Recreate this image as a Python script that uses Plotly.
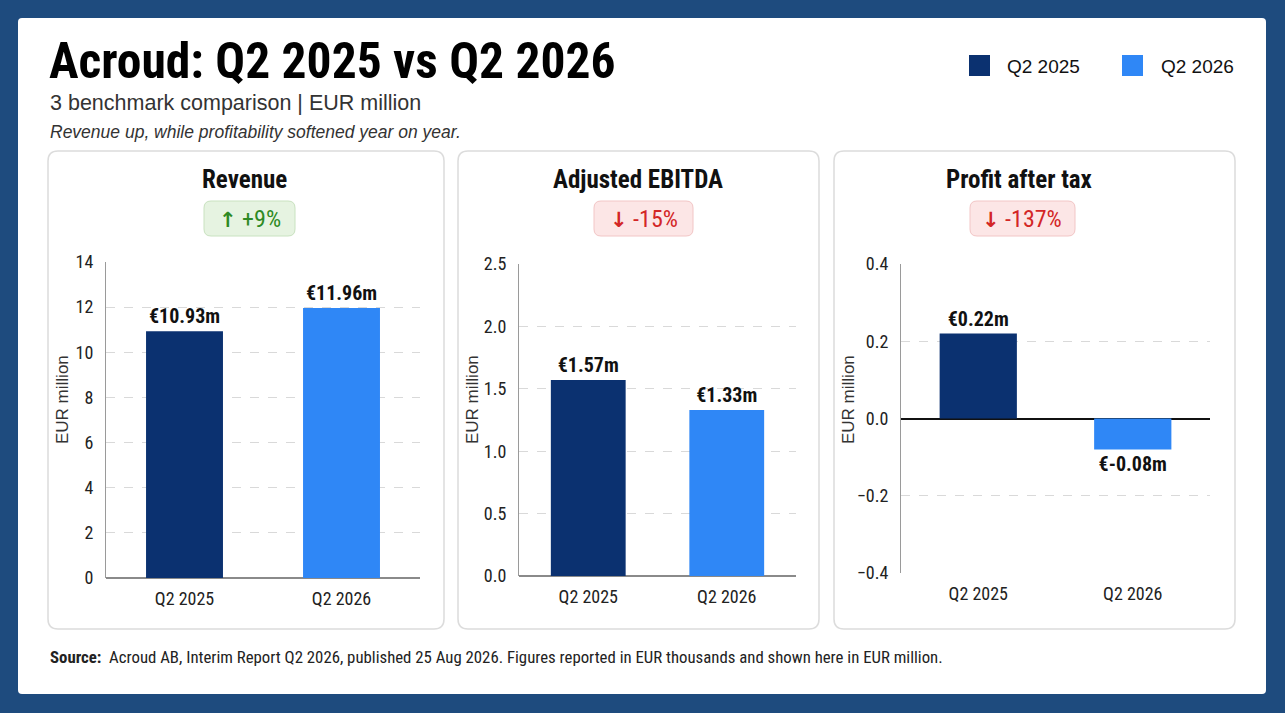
import plotly.graph_objects as go

# ---------------- data ----------------
periods = ["Q2 2025", "Q2 2026"]
metrics = ["Revenue", "Adjusted EBITDA", "Profit after tax"]
revenue = [10.93, 11.96]
adj_ebitda = [1.57, 1.33]
profit_after_tax = [0.22, -0.08]
changes = ["+9%", "-15%", "-137%"]
change_up = [True, False, False]
y_ranges = [[0, 14], [0, 2.5], [-0.4, 0.4]]
y_dticks = [2, 0.5, 0.2]
series = [revenue, adj_ebitda, profit_after_tax]
y_title = "EUR million"

title = "Acroud: Q2 2025 vs Q2 2026"
subtitle = "3 benchmark comparison | EUR million"
note = "Revenue up, while profitability softened year on year."
source = ("<b>Source:</b>  Acroud AB, Interim Report Q2 2026, published 25 Aug 2026. "
          "Figures reported in EUR thousands and shown here in EUR million.")

# ---------------- style ----------------
W, H = 1285, 713
NAVY = "#0b3170"
LIGHT = "#2f87f6"
COLORS = [NAVY, LIGHT]
BG = "#1e4b7e"
NARROW = "Liberation Sans Narrow, Roboto Condensed, Arial Narrow, Roboto, sans-serif"
REG = "Liberation Sans, Arial, sans-serif"
TXT = "#111111"


def px(x):
    return x / W


def py(y):
    return 1 - y / H


def rrect(x0, y0, x1, y1, r):
    rx, ry = r / W, r / H
    X0, X1 = px(x0), px(x1)
    Y0, Y1 = py(y1), py(y0)  # bottom, top in paper coords
    return (f"M{X0+rx},{Y0} L{X1-rx},{Y0} Q{X1},{Y0} {X1},{Y0+ry} "
            f"L{X1},{Y1-ry} Q{X1},{Y1} {X1-rx},{Y1} L{X0+rx},{Y1} "
            f"Q{X0},{Y1} {X0},{Y1-ry} L{X0},{Y0+ry} Q{X0},{Y0} {X0+rx},{Y0} Z")


# panel geometry (pixels)
panels = [(48, 151, 444, 629), (458, 151, 819, 629), (834, 151, 1235, 629)]
plot_x = [(106, 420), (519, 796), (901, 1210)]
plot_y = [(262, 578), (264, 576), (264, 573)]
title_cx = [244, 638, 1019]
badge_x = [(204, 295), (594, 693), (970, 1075)]
bar_widths = [0.49, 0.54, 0.5]
ytitle_x = [62, 472, 848]

fig = go.Figure()
shapes = []
annotations = []

# card
shapes.append(dict(type="path", path=rrect(18, 18, 1266, 694, 4), xref="paper", yref="paper",
                   fillcolor="white", line=dict(width=0), layer="below"))

for i in range(3):
    ax = "" if i == 0 else str(i + 1)
    xa, ya = "x" + ax, "y" + ax
    vals = series[i]
    fig.add_trace(go.Bar(
        x=periods, y=vals, xaxis=xa, yaxis=ya,
        marker=dict(color=COLORS, line=dict(width=0)),
        width=bar_widths[i],
        text=[f"€{v:.2f}m" for v in vals],
        textposition="outside", cliponaxis=False,
        textfont=dict(family=NARROW, size=20, color=TXT, weight="bold"),
        showlegend=False, hoverinfo="skip",
    ))
    x0, x1 = plot_x[i]
    yt, yb = plot_y[i]
    fig.layout["xaxis" + ax] = dict(
        domain=[px(x0), px(x1)], anchor=ya, showgrid=False, showline=False,
        ticks="", ticklabelstandoff=8, automargin=False,
        tickfont=dict(family=NARROW, size=18, color="#222"), fixedrange=True,
    )
    zero_black = y_ranges[i][0] < 0
    fig.layout["yaxis" + ax] = dict(
        domain=[py(yb), py(yt)], anchor=xa, range=y_ranges[i], dtick=y_dticks[i],
        tickformat=".1f" if i > 0 else "d", automargin=False,
        showgrid=True, gridcolor="#d9d9d9", griddash="dash", gridwidth=1,
        showline=True, linecolor="#9a9a9a", linewidth=1,
        zeroline=True, zerolinecolor="#111" if zero_black else "#8a8a8a",
        zerolinewidth=2 if zero_black else 1.5,
        ticks="", ticklabelstandoff=8,
        tickfont=dict(family=NARROW, size=18, color="#222"),
        fixedrange=True,
    )
    # y-axis title
    annotations.append(dict(x=px(ytitle_x[i]), y=py(400), xref="paper", yref="paper",
                            text=y_title, textangle=-90, showarrow=False,
                            font=dict(family=REG, size=17, color="#333"),
                            xanchor="center", yanchor="middle"))
    # panel box
    l, t, r, b = panels[i]
    shapes.append(dict(type="path", path=rrect(l, t, r, b, 10), xref="paper", yref="paper",
                       fillcolor="white", line=dict(color="#dcdcdc", width=1.5), layer="below"))
    # panel title
    annotations.append(dict(x=px(title_cx[i]), y=py(179), xref="paper", yref="paper",
                            text=f"<b>{metrics[i]}</b>", showarrow=False,
                            font=dict(family=NARROW, size=25, color=TXT),
                            xanchor="center", yanchor="middle"))
    # badge
    bx0, bx1 = badge_x[i]
    up = change_up[i]
    shapes.append(dict(type="path", path=rrect(bx0, 201, bx1, 236, 7), xref="paper", yref="paper",
                       fillcolor="#e6f3e1" if up else "#fce6e6",
                       line=dict(color="#c9e2c0" if up else "#f2c6c6", width=1), layer="below"))
    arrow = "↑" if up else "↓"
    annotations.append(dict(x=px((bx0 + bx1) / 2), y=py(219), xref="paper", yref="paper",
                            text=(f"<span style='font-family:DejaVu Sans;font-size:21px'>"
                                  f"<b>{arrow}</b></span> {changes[i]}"),
                            showarrow=False,
                            font=dict(family=NARROW, size=24, color="#2e8a24" if up else "#d32626"),
                            xanchor="center", yanchor="middle"))

# header texts
annotations.append(dict(x=px(47), y=py(61), xref="paper", yref="paper", text=f"<b>{title}</b>",
                        showarrow=False, xanchor="left", yanchor="middle",
                        font=dict(family=NARROW, size=49.5, color="#000")))
annotations.append(dict(x=px(48), y=py(103), xref="paper", yref="paper", text=subtitle,
                        showarrow=False, xanchor="left", yanchor="middle",
                        font=dict(family=REG, size=21.5, color="#333")))
annotations.append(dict(x=px(48), y=py(132), xref="paper", yref="paper", text=f"<i>{note}</i>",
                        showarrow=False, xanchor="left", yanchor="middle",
                        font=dict(family=REG, size=17.5, color="#333")))
annotations.append(dict(x=px(48), y=py(657), xref="paper", yref="paper", text=source,
                        showarrow=False, xanchor="left", yanchor="middle",
                        font=dict(family=NARROW, size=16.8, color="#222")))

# legend (squares + labels)
leg_sq = [(969, 990), (1122, 1143)]
leg_tx = [1005, 1159]
for k in range(2):
    a, b = leg_sq[k]
    shapes.append(dict(type="rect", x0=px(a), x1=px(b), y0=py(76), y1=py(55), xref="paper",
                       yref="paper", fillcolor=COLORS[k], line=dict(width=0), layer="above"))
    annotations.append(dict(x=px(leg_tx[k]), y=py(66), xref="paper", yref="paper", text=periods[k],
                            showarrow=False, xanchor="left", yanchor="middle",
                            font=dict(family=REG, size=19, color="#111")))

fig.update_layout(
    width=W, height=H, margin=dict(l=0, r=0, t=0, b=0, pad=0, autoexpand=False),
    paper_bgcolor=BG, plot_bgcolor="rgba(0,0,0,0)",
    shapes=shapes, annotations=annotations, bargap=0.5,
    showlegend=False,
)

fig.write_html("out.html", config={"displayModeBar": False},
               post_script="document.body.style.margin='0';document.body.style.background='"
                           + BG + "';")
